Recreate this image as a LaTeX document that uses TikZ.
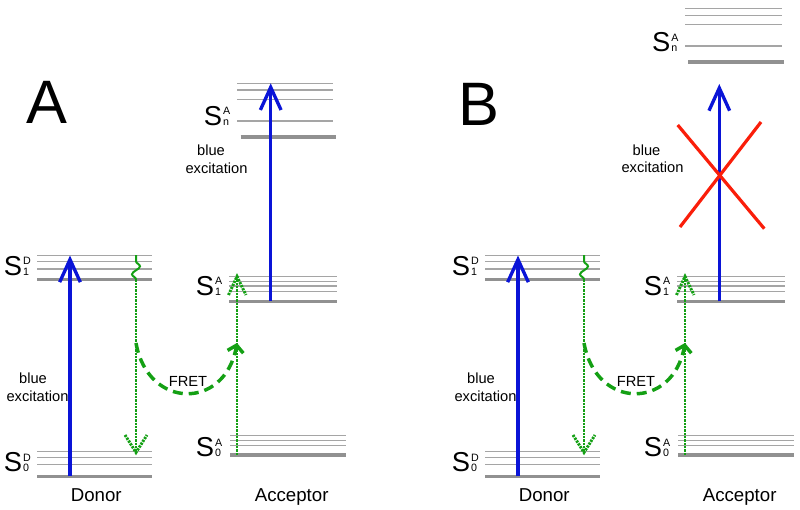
\documentclass[tikz,border=0pt]{standalone}
\usepackage{fontspec}
\setmainfont{Liberation Sans}
\usetikzlibrary{arrows.meta,calc,decorations.pathmorphing}
\definecolor{eblue}{RGB}{10,20,215}
\definecolor{egreen}{RGB}{20,160,20}
\definecolor{lgray}{RGB}{165,165,165}
\definecolor{dgray}{RGB}{145,145,145}
\definecolor{ered}{RGB}{250,30,10}
\tikzset{
  lvl/.style={lgray, line width=0.9pt},
  ground/.style={dgray, line width=2.3pt},
  bluearrow/.style={eblue, line width=2.5pt, -{Straight Barb[length=17pt,width=15.5pt]}},
  dots/.style={egreen, line width=2.2pt, dash pattern=on 1.7pt off 0.8pt},
  wavy/.style={egreen, line width=1.5pt, decorate, decoration={snake, segment length=12pt, amplitude=3pt}},
  fret/.style={egreen, line width=2.6pt, dash pattern=on 7.5pt off 4.5pt, -{Straight Barb[length=5pt,width=12pt]}},
  cross/.style={ered, line width=2.4pt},
  lbl/.style={font=\fontsize{14}{16}\selectfont, inner sep=0pt, anchor=base},
  small/.style={font=\fontsize{11}{13}\selectfont, inner sep=0pt, anchor=base},
  slab/.style={font=\fontsize{20.5}{20.5}\selectfont, inner sep=0pt, anchor=base west},
  ssub/.style={font=\fontsize{8}{8}\selectfont, inner sep=0pt, anchor=base west},
  big/.style={font=\fontsize{46}{46}\selectfont, inner sep=0pt, anchor=base west}
}
\newcommand\Slab[5]{%
  \node[slab] (#1) at (#2,#3) {S};
  \node[ssub] (#1-u) at ($(#1.base east)+(0.5,-10.5)$) {#4};
  \node[ssub] (#1-d) at ($(#1.base east)+(0.5,0)$) {#5};}
\newcommand\panel[2]{%
\begin{scope}[shift={(#2,0)}]
  % donor levels
  \foreach \yy in {255.3,261.7,269} \draw[lvl] (37,\yy) -- (152,\yy);
  \draw[ground] (37,279.3) -- (152,279.3);
  \foreach \yy in {451.7,457.3,464.7} \draw[lvl] (37,\yy) -- (152,\yy);
  \draw[ground] (37,476.3) -- (152,476.3);
  % acceptor S1
  \foreach \yy in {276.7,281.3,286,291.7} \draw[lvl] (229,\yy) -- (337,\yy);
  \draw[ground] (229,301.3) -- (337,301.3);
  % acceptor S0
  \foreach \yy in {435.3,440.3,445.7} \draw[lvl] (230,\yy) -- (346,\yy);
  \draw[ground] (230,455) -- (346,455);
  % labels
  \Slab{sd1-#1}{3.5}{275}{D}{1}
  \Slab{sd0-#1}{3.5}{471.7}{D}{0}
  \Slab{sa1-#1}{195.5}{295}{A}{1}
  \Slab{sa0-#1}{195.5}{456.7}{A}{0}
  \node[small] (be1-#1) at (33,383) {blue};
  \node[small] (be2-#1) at (37.5,401.2) {excitation};
  \node[small] (fretl-#1) at (188,386.5) {FRET};
  \node[lbl] (donor-#1) at (96.3,501.5) {Donor};
  \node[lbl] (acc-#1) at (291.7,501.5) {Acceptor};
  % donor excitation
  \coordinate (dS0-#1) at (70,476.3);
  \coordinate (dS1-#1) at (70,255.5);
  \draw[bluearrow] (dS0-#1) -- (dS1-#1);
  % relaxation and donor decay
  \coordinate (dw-#1) at (136,279.3);
  \coordinate (dwt-#1) at (136,255);
  \draw[wavy] (dw-#1) -- (dwt-#1);
  \coordinate (dd-#1) at (136,452.5);
  \draw[dots] (dw-#1) -- (dd-#1);
  \draw[dots] ($(dd-#1)+(-11,-17.5)$) -- (dd-#1) -- ($(dd-#1)+(11,-17.5)$);
  % acceptor excitation
  \coordinate (aS0-#1) at (237,455);
  \coordinate (aS1-#1) at (237,276.5);
  \draw[dots] (aS0-#1) -- (aS1-#1);
  \draw[dots] ($(aS1-#1)+(-8.5,18.5)$) -- (aS1-#1) -- ($(aS1-#1)+(9,18.5)$);
  % FRET
  \coordinate (fs-#1) at (136,343);
  \coordinate (fe-#1) at (237,343);
  \draw[fret] (fs-#1) .. controls ($(fs-#1)+(12,67)$) and ($(fe-#1)+(-12,67)$) .. (fe-#1);
\end{scope}}
\begin{document}
\begin{tikzpicture}[x=0.75pt,y=-0.75pt]
\useasboundingbox (0,0) rectangle (800,510);
\panel{a}{0}
\panel{b}{448}
% panel letters
\node[big] (letA) at (26,123.3) {A};
\node[big] (letB) at (458,125.7) {B};
% panel A upper acceptor levels
\foreach \yy in {83.3,90,99.3,121} \draw[lvl] (237,\yy) -- (333,\yy);
\draw[ground] (240.7,137) -- (336,137);
\Slab{sna-a}{203.5}{125}{A}{n}
\node[small] (be3-a) at (211,155.5) {blue};
\node[small] (be4-a) at (216.5,173) {excitation};
\coordinate (aT0-a) at (270.7,301.3);
\coordinate (aTn-a) at (270.7,83.3);
\draw[bluearrow] (aT0-a) -- (aTn-a);
% panel B upper acceptor levels
\foreach \yy in {8.3,15.3,24.3,46} \draw[lvl] (685,\yy) -- (782,\yy);
\draw[ground] (688,62) -- (784,62);
\Slab{sna-b}{651.8}{51.7}{A}{n}
\node[small] (be3-b) at (646.5,155) {blue};
\node[small] (be4-b) at (652.5,172) {excitation};
\coordinate (aT0-b) at (719.3,301.3);
\coordinate (aTn-b) at (719.3,84);
\draw[bluearrow] (aT0-b) -- (aTn-b);
% red cross
\coordinate (x1) at (677.7,125);
\coordinate (x2) at (764.3,228.7);
\coordinate (x3) at (761,122);
\coordinate (x4) at (680,227);
\draw[cross] (x1) -- (x2);
\draw[cross] (x3) -- (x4);
\end{tikzpicture}
\end{document}
